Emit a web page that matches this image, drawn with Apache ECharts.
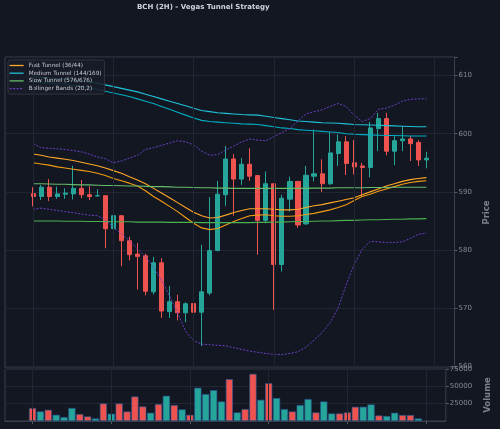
<!DOCTYPE html>
<html>
<head>
<meta charset="utf-8">
<script src="https://cdn.jsdelivr.net/npm/echarts@6/dist/echarts.min.js"></script>
<style>
html, body { margin: 0; padding: 0; background: #131722; }
#main { width: 500px; height: 429px; }
</style>
</head>
<body>
<div id="main"></div>
<script>
// candles: open / close / low / high (2H bars)
var openP  = [589.7, 589.2, 590.8, 589.2, 589.6, 589.65, 590.6, 589.5, 589.3, 589.35,
              583.65, 585.9, 581.6, 579.3, 579.0, 572.8, 577.8, 569.4, 571.1, 569.2,
              570.8, 569.3, 572.6, 579.9, 589.5, 595.65, 592.2, 594.75, 592.8, 585.1,
              591.4, 577.5, 588.75, 591.8, 584.5, 592.7, 593.1, 591.4, 596.6, 598.6,
              595.0, 594.45, 594.2, 600.9, 602.6, 597.0, 598.8, 599.1, 598.5, 595.5];
var closeP = [589.2, 590.8, 589.2, 589.65, 589.8, 590.6, 589.5, 589.2, 589.35, 583.65,
              585.9, 581.6, 579.2, 578.9, 572.9, 577.8, 569.5, 571.1, 569.2, 570.75,
              569.3, 572.8, 579.9, 589.6, 595.65, 592.2, 594.75, 592.7, 585.1, 591.4,
              577.5, 588.9, 591.8, 584.3, 592.85, 593.1, 591.4, 596.7, 598.6, 594.9,
              594.3, 594.2, 601.0, 602.6, 597.0, 598.8, 599.1, 598.3, 595.5, 595.8];
var lowP   = [587.5, 588.6, 588.4, 588.8, 588.8, 588.7, 588.9, 588.6, 589.2, 580.3,
              582.3, 577.2, 578.2, 573.2, 572.2, 572.35, 568.3, 568.3, 567.9, 567.6,
              568.0, 563.5, 572.2, 579.8, 587.6, 585.9, 591.2, 591.9, 579.2, 584.6,
              569.7, 576.3, 586.6, 583.8, 584.3, 591.8, 590.0, 591.2, 594.45, 592.9,
              593.0, 589.2, 592.5, 597.0, 596.3, 594.6, 597.0, 595.3, 594.45, 594.05];
var highP  = [590.8, 591.2, 592.2, 590.9, 590.6, 594.5, 592.05, 591.0, 590.45, 589.4,
              586.9, 585.9, 582.3, 581.2, 579.35, 578.8, 578.6, 573.8, 572.3, 571.0,
              571.5, 580.9, 589.1, 591.9, 597.9, 596.5, 595.8, 597.5, 592.8, 593.5,
              591.4, 589.5, 592.6, 591.8, 594.45, 600.7, 595.6, 600.3, 599.9, 599.6,
              598.9, 595.0, 602.05, 603.6, 603.6, 599.6, 601.3, 599.6, 598.9, 596.9];
var volume = [18700, 13800, 16200, 9000, 5700, 18700, 10000, 6600, 3700, 25300,
              10500, 25300, 13800, 35400, 21000, 11900, 24400, 36400, 23000, 16700,
              9000, 47900, 38800, 44500, 28200, 60400, 12400, 17200, 68000, 30600,
              54600, 33100, 17200, 13800, 23000, 31600, 12400, 28200, 10900, 10900,
              12400, 20500, 20500, 23900, 8000, 7200, 11900, 8600, 8600, 3700];

// tunnels
var fastA = [596.5, 596.3, 596.0, 595.8, 595.6, 595.4, 595.1, 594.8, 594.5, 594.1,
             593.65, 593.2, 592.6, 592.05, 591.4, 590.6, 589.8, 589.0, 588.15, 587.3,
             586.5, 585.9, 585.5, 585.6, 586.0, 586.45, 586.8, 587.1, 587.1, 587.1,
             587.0, 586.9, 586.9, 587.0, 587.3, 587.6, 587.8, 588.1, 588.4, 588.7,
             589.0, 589.5, 590.0, 590.5, 591.0, 591.4, 591.8, 592.1, 592.3, 592.45];
var fastB = [595.0, 594.8, 594.6, 594.3, 594.1, 593.9, 593.7, 593.5, 593.2, 592.8,
             592.3, 591.9, 591.5, 591.0, 590.2, 589.2, 588.4, 587.5, 586.6, 585.6,
             584.6, 583.8, 583.5, 583.7, 584.3, 584.9, 585.4, 585.9, 586.0, 586.05,
             585.9, 585.8, 585.8, 585.9, 586.1, 586.3, 586.6, 586.9, 587.3, 587.8,
             588.5, 589.2, 589.6, 590.1, 590.5, 590.9, 591.3, 591.6, 591.8, 591.9];
var medA = [609.8, 609.7, 609.6, 609.5, 609.4, 609.2, 609.0, 608.9, 608.7, 608.4,
            608.1, 607.8, 607.5, 607.2, 606.8, 606.4, 606.0, 605.6, 605.2, 604.8,
            604.4, 604.0, 603.8, 603.6, 603.5, 603.4, 603.3, 603.25, 603.2, 603.0,
            602.8, 602.6, 602.4, 602.2, 602.1, 602.0, 601.9, 601.85, 601.8, 601.7,
            601.6, 601.55, 601.5, 601.45, 601.4, 601.35, 601.3, 601.25, 601.2, 601.2];
var medB = [608.9, 608.8, 608.7, 608.6, 608.5, 608.3, 608.1, 607.9, 607.6, 607.3,
            607.0, 606.7, 606.4, 606.0, 605.6, 605.2, 604.7, 604.2, 603.7, 603.2,
            602.7, 602.3, 602.1, 602.0, 601.9, 601.8, 601.7, 601.65, 601.6, 601.4,
            601.2, 601.0, 600.9, 600.7, 600.6, 600.5, 600.4, 600.3, 600.2, 600.0,
            599.9, 599.85, 599.8, 599.75, 599.7, 599.7, 599.65, 599.6, 599.6, 599.6];
var slowA = [591.4, 591.4, 591.35, 591.3, 591.3, 591.25, 591.2, 591.2, 591.15, 591.1,
             591.1, 591.05, 591.0, 591.0, 590.95, 590.9, 590.9, 590.85, 590.8, 590.8,
             590.75, 590.7, 590.7, 590.65, 590.65, 590.6, 590.6, 590.6, 590.6, 590.6,
             590.6, 590.6, 590.6, 590.6, 590.6, 590.65, 590.65, 590.65, 590.7, 590.7,
             590.7, 590.7, 590.75, 590.75, 590.75, 590.8, 590.8, 590.8, 590.8, 590.8];
var slowB = [585.0, 585.0, 585.0, 585.0, 584.95, 584.95, 584.95, 584.9, 584.9, 584.9,
             584.85, 584.85, 584.85, 584.8, 584.8, 584.8, 584.8, 584.75, 584.75, 584.75,
             584.75, 584.7, 584.7, 584.7, 584.7, 584.7, 584.7, 584.7, 584.75, 584.75,
             584.8, 584.8, 584.85, 584.9, 584.9, 584.95, 585.0, 585.0, 585.05, 585.1,
             585.1, 585.15, 585.2, 585.2, 585.25, 585.3, 585.3, 585.35, 585.35, 585.4];
// bollinger (20,2)
var bbUpper = [598.3, 597.6, 597.5, 597.4, 597.3, 597.1, 596.9, 596.5, 596.0, 595.7,
               595.0, 595.3, 595.8, 596.3, 597.3, 597.6, 598.0, 598.4, 598.8, 598.6,
               598.1, 597.0, 596.3, 596.4, 597.2, 597.9, 598.6, 599.1, 598.9, 598.8,
               599.5, 600.2, 600.9, 602.2, 603.4, 603.8, 604.1, 604.7, 605.2, 604.7,
               603.2, 602.1, 602.6, 604.2, 604.4, 604.9, 605.6, 605.9, 606.0, 606.0];
var bbLower = [587.0, 587.2, 587.0, 586.8, 586.6, 586.4, 586.2, 586.0, 585.9, 585.2,
               583.9, 582.8, 581.6, 580.2, 578.8, 577.1, 574.8, 572.1, 569.2, 566.0,
               564.4, 563.8, 563.7, 563.6, 563.5, 563.2, 562.9, 562.6, 562.4, 562.2,
               562.05, 562.0, 562.2, 562.5, 563.3, 564.5, 565.8, 567.5, 570.0, 574.0,
               577.5, 580.1, 581.5, 581.4, 581.3, 581.3, 581.4, 582.0, 582.7, 582.9];

var gridTicks = [0, 10, 20, 30, 40, 50];

var UP = '#26a69a', DOWN = '#ef5350';
var PAD = 3; // empty slots either side, like matplotlib margins
var n = openP.length;
var total = n + PAD * 2;

var cats = [];
for (var i = 0; i < total; i++) cats.push(String(i - PAD));

function pad(arr) {
	var out = [];
	for (var i = 0; i < PAD; i++) out.push('-');
	for (var j = 0; j < arr.length; j++) out.push(arr[j]);
	for (var k = 0; k < PAD; k++) out.push('-');
	return out;
}

var candles = [];
var vols = [];
for (var i = 0; i < PAD; i++) { candles.push('-'); vols.push('-'); }
for (var i = 0; i < n; i++) {
	candles.push([openP[i], closeP[i], lowP[i], highP[i]]);
	vols.push({
		value: volume[i],
		itemStyle: { color: closeP[i] >= openP[i] ? UP : DOWN }
	});
}
for (var i = 0; i < PAD; i++) { candles.push('-'); vols.push('-'); }

var blank = [];
for (var i = 0; i < total; i++) blank.push('-');

var vLines = gridTicks.map(function (t) { return { xAxis: String(t) }; });

var gridColor = '#222632';
var frameColor = '#3a3e4a';
var labelColor = '#868993';
var font = 'DejaVu Sans';

function tunnel(name, data, color, width, dash) {
	return {
		name: name,
		type: 'line',
		xAxisIndex: 0,
		yAxisIndex: 0,
		data: pad(data),
		symbol: 'none',
		silent: true,
		z: 3,
		lineStyle: { color: color, width: width, type: dash || 'solid' },
		itemStyle: { color: color }
	};
}

var chart = echarts.init(document.getElementById('main'));
chart.setOption({
	backgroundColor: '#131722',
	animation: false,
	textStyle: { fontFamily: font },
	title: {
		text: 'BCH (2H) - Vegas Tunnel Strategy',
		left: 137,
		top: 4,
		padding: 0,
		textStyle: { fontFamily: font, fontSize: 7, fontWeight: 'bold', color: '#d1d4dc' }
	},
	legend: {
		orient: 'vertical',
		left: 8,
		top: 60,
		padding: [2, 3, 2, 1],
		itemWidth: 14,
		itemHeight: 6,
		itemGap: 0.7,
		selectedMode: false,
		backgroundColor: 'rgba(24,28,40,0.85)',
		borderColor: '#30343f',
		borderWidth: 1,
		borderRadius: 2,
		itemStyle: { opacity: 0 },
		lineStyle: { width: 1.3 },
		textStyle: { fontFamily: font, fontSize: 5.7, lineHeight: 7, color: '#c8cbd2' },
		data: ['Fast Tunnel (36/44)', 'Medium Tunnel (144/169)', 'Slow Tunnel (576/676)', 'Bollinger Bands (20,2)']
	},
	grid: [
		{ left: 5, top: 57, width: 449.5, height: 311, show: true, borderColor: frameColor, borderWidth: 1, backgroundColor: '#131722' },
		{ left: 5, top: 369, width: 449.5, height: 52, show: true, borderColor: frameColor, borderWidth: 1, backgroundColor: '#131722' }
	],
	xAxis: [
		{
			type: 'category', gridIndex: 0, data: cats, boundaryGap: true,
			axisLine: { show: false }, axisTick: { show: false }, axisLabel: { show: false },
			splitLine: { show: false }
		},
		{
			type: 'category', gridIndex: 1, data: cats, boundaryGap: true,
			axisLine: { show: true, lineStyle: { color: frameColor } },
			axisTick: {
				show: true, alignWithLabel: true, length: 3,
				lineStyle: { color: '#555966' },
				interval: function (idx) { return (idx - PAD) % 10 === 0; }
			},
			axisLabel: { show: false },
			splitLine: { show: false }
		}
	],
	yAxis: [
		{
			type: 'value', gridIndex: 0, position: 'right',
			min: 559.7, max: 613.2, splitNumber: 5,
			name: 'Price', nameLocation: 'middle', nameGap: 20, nameRotate: 90,
			nameTextStyle: { fontFamily: font, fontSize: 8.5, fontWeight: 'bold', color: '#7d808a' },
			axisLine: { show: false },
			axisTick: { show: true, length: 3, lineStyle: { color: '#555966' } },
			axisLabel: {
				fontSize: 7, color: labelColor, margin: 4,
				formatter: function (v) { return Math.abs(v % 10) < 1e-6 ? String(v) : ''; }
			},
			splitLine: { show: true, lineStyle: { color: gridColor, width: 1 } }
		},
		{
			type: 'value', gridIndex: 1, position: 'right',
			min: 0, max: 75000, interval: 25000,
			name: 'Volume', nameLocation: 'middle', nameGap: 25, nameRotate: 90,
			nameTextStyle: { fontFamily: font, fontSize: 8.5, fontWeight: 'bold', color: '#7d808a' },
			axisLine: { show: false },
			axisTick: { show: true, length: 3, lineStyle: { color: '#555966' } },
			axisLabel: {
				fontSize: 7, color: labelColor, margin: 4, showMinLabel: false,
				formatter: function (v) { return String(v); }
			},
			splitLine: { show: true, lineStyle: { color: gridColor, width: 1 } }
		}
	],
	series: [
		{
			name: 'grid-x',
			type: 'line', xAxisIndex: 0, yAxisIndex: 0,
			data: blank, symbol: 'none', silent: true, z: 0,
			markLine: {
				silent: true, symbol: 'none', label: { show: false },
				lineStyle: { color: gridColor, type: 'solid', width: 1 },
				data: vLines
			}
		},
		{
			name: 'grid-x-vol',
			type: 'line', xAxisIndex: 1, yAxisIndex: 1,
			data: blank, symbol: 'none', silent: true, z: 0,
			markLine: {
				silent: true, symbol: 'none', label: { show: false },
				lineStyle: { color: gridColor, type: 'solid', width: 1 },
				data: vLines
			}
		},
		{
			name: 'BCH',
			type: 'candlestick',
			xAxisIndex: 0, yAxisIndex: 0,
			data: candles,
			barWidth: 4.6,
			z: 2,
			itemStyle: {
				color: UP, color0: DOWN,
				borderColor: UP, borderColor0: DOWN,
				borderWidth: 1
			}
		},
		tunnel('Fast Tunnel (36/44)', fastA, '#ffa726', 1.1),
		tunnel('Fast Tunnel (36/44)', fastB, '#f39c12', 1.1),
		tunnel('Medium Tunnel (144/169)', medA, '#1fc2d8', 1.1),
		tunnel('Medium Tunnel (144/169)', medB, '#00acc1', 1.1),
		tunnel('Slow Tunnel (576/676)', slowA, '#66bb6a', 1.1),
		tunnel('Slow Tunnel (576/676)', slowB, '#4caf50', 1.1),
		tunnel('Bollinger Bands (20,2)', bbUpper, '#6a40c8', 1, [2, 1.5]),
		tunnel('Bollinger Bands (20,2)', bbLower, '#6a40c8', 1, [2, 1.5]),
		{
			name: 'Volume',
			type: 'bar',
			xAxisIndex: 1, yAxisIndex: 1,
			data: vols,
			barWidth: 7.2,
			itemStyle: { borderColor: 'rgba(40,90,150,0.9)', borderWidth: 0.7 }
		}
	]
});
</script>
</body>
</html>
